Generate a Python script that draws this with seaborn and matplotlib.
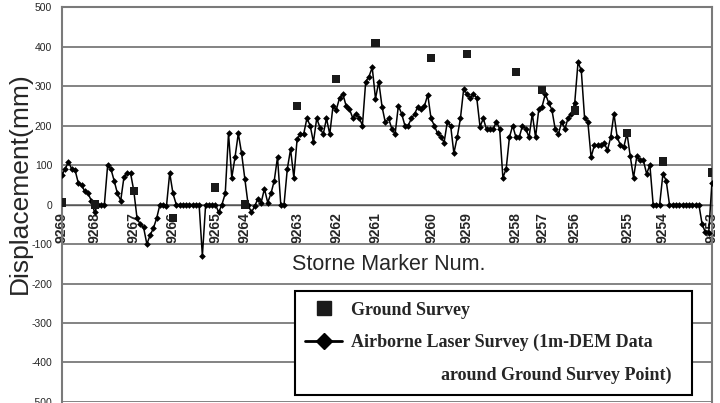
import numpy as np
import pandas as pd
import matplotlib
matplotlib.use("Agg")
import matplotlib.pyplot as plt
import seaborn as sns
from matplotlib.lines import Line2D
from matplotlib.font_manager import FontProperties

# ---------------- data ----------------
# Airborne laser survey displacement (mm) at successive profile points
airborne = [
    75, 90, 108, 90, 88, 55, 50, 33, 28, 10,
    -20, 0, 0, 0, 100, 90, 60, 28, 10, 70,
    80, 80, 35, -35, -50, -58, -100, -78, -60, -35,
    0, 0, -5, 80, 28, 0, 0, 0, 0, 0,
    0, 0, 0, -130, 0, 0, 0, 0, -20, 0,
    28, 180, 68, 120, 180, 130, 65, 0, -20, -5,
    15, 5, 40, 5, 28, 60, 120, 0, 0, 90,
    140,
    68, 165, 178, 178, 218, 200, 158, 218, 195, 178,
    218, 178, 250, 240, 270, 280, 250, 242, 220, 230,
    220, 200, 311, 324, 347, 268, 311, 248, 208, 218,
    192, 178, 250, 230, 200, 200, 218, 230, 248, 242,
    250, 278, 218, 200, 180, 172, 157, 210, 200, 130,
    170, 218, 293, 280, 270, 280, 270, 197, 218, 190,
    190, 190, 210, 192, 68, 90, 170, 200, 170, 170,
    200, 192, 170, 230, 170, 242, 248, 280, 258, 240,
    192, 178, 210, 192, 220, 230, 258, 360, 340, 220,
    210, 120, 150, 150, 150, 157, 137, 170, 230, 170,
    150, 145, 180, 122, 68, 122, 112, 112, 78, 100,
    0, 0, 0, 78, 60, 0, 0, 0, 0, 0,
    0, 0, 0, 0, 0, -50, -70, -73, 55,
]
# Stone markers: name, profile point where it lies, ground survey displacement (mm)
marker_names = ["9269", "9268", "9267", "9266", "9265", "9264", "9263", "9262", "9261",
                "9260", "9259", "9258", "9257", "9256", "9255", "9254", "9253"]
marker_point = [0, 10, 22, 34, 47, 56, 72, 84, 96, 113, 124, 139, 147, 157, 173, 184, 199]
ground = [5, 0, 35, -35, 43, 0, 250, 318, 410, 370, 382, 335, 291, 238, 180, 109, 81]
y_ticks = [-500, -400, -300, -200, -100, 0, 100, 200, 300, 400, 500]

# ---------------- style ----------------
sns.set_style("white")
plt.rcParams["font.family"] = ["Liberation Sans", "DejaVu Sans"]

fig = plt.figure(figsize=(7.2, 4.03), dpi=100)
ax = fig.add_axes([0.086, 0.0025, 0.9028, 0.980])

prof = pd.DataFrame({"point": np.arange(len(airborne)), "disp": airborne})
gnd = pd.DataFrame({"point": marker_point, "disp": ground})

sns.lineplot(data=prof, x="point", y="disp", ax=ax, color="black", lw=1.1,
             marker="D", markersize=3.4, markeredgewidth=0, zorder=3)
sns.scatterplot(data=gnd, x="point", y="disp", ax=ax, marker="s", s=34,
                color="#1a1a1a", edgecolor="none", zorder=4)

ax.set_xlim(0, len(airborne) - 1)
ax.set_ylim(-500, 500)
ax.set_yticks(y_ticks)
ax.set_yticklabels([str(v) for v in y_ticks], fontsize=7.5)
ax.yaxis.grid(True, color="#7a7a7a", lw=1.3)
ax.xaxis.grid(False)
ax.set_axisbelow(True)

for side in ["left", "right", "top"]:
    ax.spines[side].set_color("#7a7a7a")
    ax.spines[side].set_linewidth(1.5)
ax.spines["bottom"].set_position(("data", 0))
ax.spines["bottom"].set_color("#555555")
ax.spines["bottom"].set_linewidth(1.0)

ax.set_xticks(marker_point)
ax.set_xticklabels(marker_names, rotation=90, fontsize=10, fontweight="bold")
ax.set_xticks(np.arange(len(airborne)), minor=True)
ax.tick_params(axis="x", which="both", direction="inout", length=9, width=0.8,
               color="#555555", pad=1)
ax.tick_params(axis="y", direction="out", length=3, width=0.8, color="#7a7a7a", pad=4)
ax.set_xlabel("")
ax.set_ylabel("")

fig.text(20 / 720, 1 - 183 / 403, "Displacement(mm)", rotation=90,
         ha="center", va="center", fontsize=19)
fig.text(389 / 720, 1 - 265 / 403, "Storne Marker Num.", ha="center",
         va="center", fontsize=15.5)

h1 = Line2D([], [], ls="none", marker="s", color="#1a1a1a", markersize=10.5)
h2 = Line2D([], [], color="black", lw=2, marker="D", markersize=8)
h3 = Line2D([], [], ls="none")
leg = ax.legend([h1, h2, h3],
                ["Ground Survey", "Airborne Laser Survey (1m-DEM Data",
                 " " * 20 + "around Ground Survey Point)"],
                loc="lower left", bbox_to_anchor=(0.358, 0.018, 0.611, 0.27),
                mode="expand", borderaxespad=0,
                prop=FontProperties(family="Liberation Serif", weight="bold", size=13),
                frameon=True, fancybox=False, edgecolor="black", framealpha=1,
                handlelength=2.05, handletextpad=0.45, labelspacing=0.85, borderpad=0.6)
leg.get_frame().set_linewidth(1.5)

fig.savefig("out.png", dpi=100)
